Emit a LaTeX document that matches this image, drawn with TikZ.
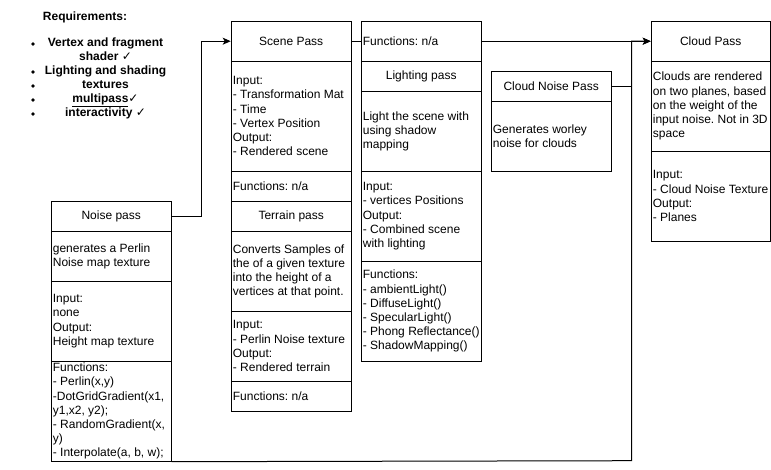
\documentclass[tikz,border=0pt]{standalone}
\usepackage{fontspec}
\setmainfont{Liberation Sans}
\newfontfamily\djv{DejaVu Sans}
\usetikzlibrary{arrows.meta}
\frenchspacing
\newcommand\dfont{\fontsize{12}{14.2}\selectfont}
\newcommand\mysec[5]{%
  \node[box, minimum height=#4] (#1) at (#2,#3) {};
  \node[tx] (#1t) at ([xshift=2pt]#1.west) {#5};}
\newcommand\myhdr[5]{%
  \node[box, minimum height=#4, font=\dfont] (#1) at (#2,#3) {#5};}
\begin{document}
\begin{tikzpicture}[x=1pt,y=-1pt,
  box/.style={draw, line width=1pt, anchor=north west, inner sep=0pt, minimum width=120pt},
  tx/.style={anchor=west, align=left, inner sep=0pt, font=\dfont},
  conn/.style={line width=1pt},
  arr/.style={conn, -{Stealth[length=8pt,width=7pt,inset=2pt]}}]
\useasboundingbox (0,0) rectangle (771,469);

% Requirements
\node[font=\dfont\bfseries] (req) at (85,17) {Requirements:};
\node[font=\fontsize{12}{14}\selectfont\bfseries, align=center, inner sep=0pt] (reqlist) at (105.5,78)
  {Vertex and fragment\\shader {\djv\mdseries ✓}\\Lighting and shading\\textures\\\underline{multipass}{\djv\mdseries ✓}\\interactivity {\djv\mdseries ✓}};
\foreach \yy in {44,72,86,100,114} \fill (33,\yy) circle (1.8);

% Noise pass
\myhdr{nh}{50.7}{200.7}{30pt}{Noise pass}
\mysec{nd}{50.7}{230.7}{50pt}{generates a Perlin\\Noise map texture}
\mysec{ni}{50.7}{280.7}{80pt}{Input:\\none\\Output:\\Height map texture}
\mysec{nf}{50.7}{360.7}{100pt}{Functions:\\- Perlin(x,y)\\-DotGridGradient(x1,\\y1,x2, y2);\\- RandomGradient(x,\\y)\\- Interpolate(a, b, w);}

% Scene pass
\myhdr{sh}{230.7}{20.7}{40pt}{Scene Pass}
\mysec{si}{230.7}{60.7}{110pt}{Input:\\- Transformation Mat\\- Time\\- Vertex Position\\Output:\\- Rendered scene}
\mysec{sf}{230.7}{170.7}{30pt}{Functions: n/a}

% Terrain pass
\myhdr{th}{230.7}{200.7}{30pt}{Terrain pass}
\mysec{td}{230.7}{230.7}{80pt}{Converts Samples of\\the of a given texture\\into the height of a\\vertices at that point.}
\mysec{ti}{230.7}{310.7}{70pt}{Input:\\- Perlin Noise texture\\Output:\\- Rendered terrain}
\mysec{tf}{230.7}{380.7}{30pt}{Functions: n/a}

% Lighting pass
\mysec{lf0}{360.7}{20.7}{40pt}{Functions: n/a}
\myhdr{lh}{360.7}{60.7}{30pt}{Lighting pass}
\mysec{ld}{360.7}{90.7}{80pt}{Light the scene with\\using shadow\\mapping}
\mysec{li}{360.7}{170.7}{90pt}{Input:\\- vertices Positions\\Output:\\- Combined scene\\with lighting}
\mysec{lfn}{360.7}{260.7}{100pt}{Functions:\\- ambientLight()\\- DiffuseLight()\\- SpecularLight()\\- Phong Reflectance()\\- ShadowMapping()}

% Cloud noise pass
\myhdr{ch}{490.7}{70.7}{30pt}{Cloud Noise Pass}
\mysec{cd}{490.7}{100.7}{70pt}{Generates worley\\noise for clouds}

% Cloud pass
\tikzset{box/.append style={}}
\begin{scope}[box/.append style={minimum width=119pt}]
\myhdr{cph}{650.7}{20.7}{40pt}{Cloud Pass}
\mysec{cpd}{650.7}{60.7}{90pt}{Clouds are rendered\\on two planes, based\\on the weight of the\\input noise. Not in 3D\\space}
\mysec{cpi}{650.7}{150.7}{90pt}{Input:\\- Cloud Noise Texture\\Output:\\- Planes}
\end{scope}

% Connectors
\coordinate (b1) at (631.7,460.7);
\draw[arr] (nh.east) -- ++(30,0) |- (sh.west);
\draw[conn] (sh.east) -- (lf0.west);
\draw[arr] (lf0.east) -- (cph.west);
\draw[arr] (nf.south east) -- (b1) |- (cph.west);
\draw[conn] (ch.east) -- (ch.east -| b1);
\end{tikzpicture}
\end{document}
